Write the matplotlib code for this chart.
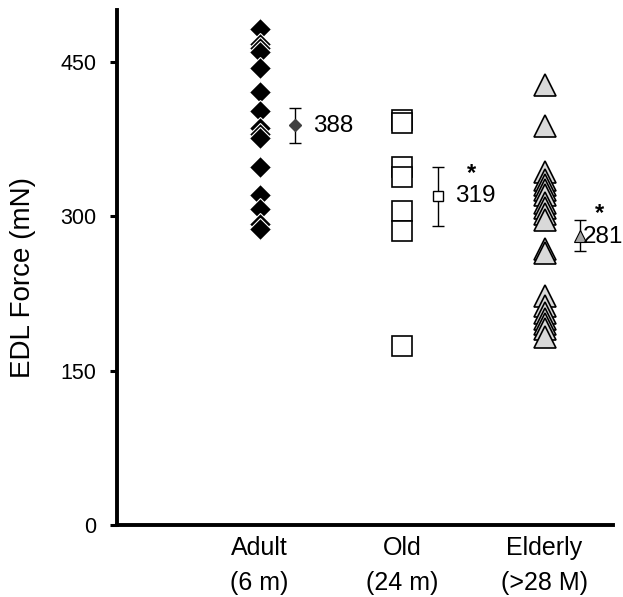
import numpy as np
import matplotlib.pyplot as plt

plt.rcParams["font.family"] = ["Liberation Sans", "DejaVu Sans"]

# groups and x labels
groups = ["Adult\n(6 m)", "Old\n(24 m)", "Elderly\n(>28 M)"]

# individual EDL force values (mN)
adult = [482, 467, 463, 459, 444, 420, 402, 385, 380, 376, 348, 320, 307, 292, 287]
old = [393, 390, 348, 338, 305, 285, 174]
elderly = [427, 387, 343, 335, 330, 325, 320, 313, 308, 302, 296, 268, 264,
           222, 213, 206, 200, 195, 190, 183]

# group mean and error (SEM)
means = [388, 319, 281]
errs = [17, 29, 15]
mean_labels = ["388", "319", "281"]
stars = ["", "*", "*"]

fig = plt.figure(figsize=(6.23, 5.97), dpi=100)
ax = fig.add_axes([0.1878, 0.1206, 0.796, 0.8626])

xpos = np.arange(1, 4)

# raw points
ax.plot(np.full(len(adult), xpos[0]), adult, linestyle="none", marker="D",
        markersize=11.5, markerfacecolor="black", markeredgecolor="white",
        markeredgewidth=0.8)
ax.plot(np.full(len(old), xpos[1]), old, linestyle="none", marker="s",
        markersize=15, markerfacecolor="white", markeredgecolor="black",
        markeredgewidth=1.2)
ax.plot(np.full(len(elderly), xpos[2]), elderly, linestyle="none", marker="^",
        markersize=15.5, markerfacecolor="#d9d9d9", markeredgecolor="black",
        markeredgewidth=1.2)

# means with error bars
mx = xpos + 0.25
mstyles = [dict(marker="D", markersize=6, markerfacecolor="#404040", markeredgecolor="#404040"),
           dict(marker="s", markersize=7, markerfacecolor="white", markeredgecolor="black",
                markeredgewidth=1),
           dict(marker="^", markersize=8, markerfacecolor="#a6a6a6", markeredgecolor="black",
                markeredgewidth=0.8)]
for i in range(3):
    ax.errorbar(mx[i], means[i], yerr=errs[i], fmt="none", ecolor="black",
                elinewidth=1, capsize=4, capthick=1)
    ax.plot(mx[i], means[i], linestyle="none", **mstyles[i])

# mean value labels and stars
txt_x = [1.373, 2.372, 3.27]
txt_y = [387, 319, 280]
for i in range(3):
    ax.text(txt_x[i], txt_y[i], mean_labels[i], fontsize=17.5, ha="left", va="center")
    if stars[i]:
        ax.text(txt_x[i] + 0.115, txt_y[i] + 11.5, stars[i], fontsize=17,
                fontweight="bold", ha="center", va="bottom")

ax.set_xlim(0, 3.48)
ax.set_ylim(0, 500)
ax.set_yticks([0, 150, 300, 450])
ax.set_xticks(xpos)
ax.set_xticklabels(groups, fontsize=18, linespacing=1.55)
ax.tick_params(axis="x", length=0, pad=8)
ax.tick_params(axis="y", length=5, width=2.2, labelsize=15.5, pad=10)

ax.set_ylabel("EDL Force (mN)", fontsize=20)
ax.yaxis.set_label_coords(-0.163, 0.48)

for s in ["top", "right"]:
    ax.spines[s].set_visible(False)
for s in ["left", "bottom"]:
    ax.spines[s].set_linewidth(2.8)

fig.savefig("out.png", dpi=100)
